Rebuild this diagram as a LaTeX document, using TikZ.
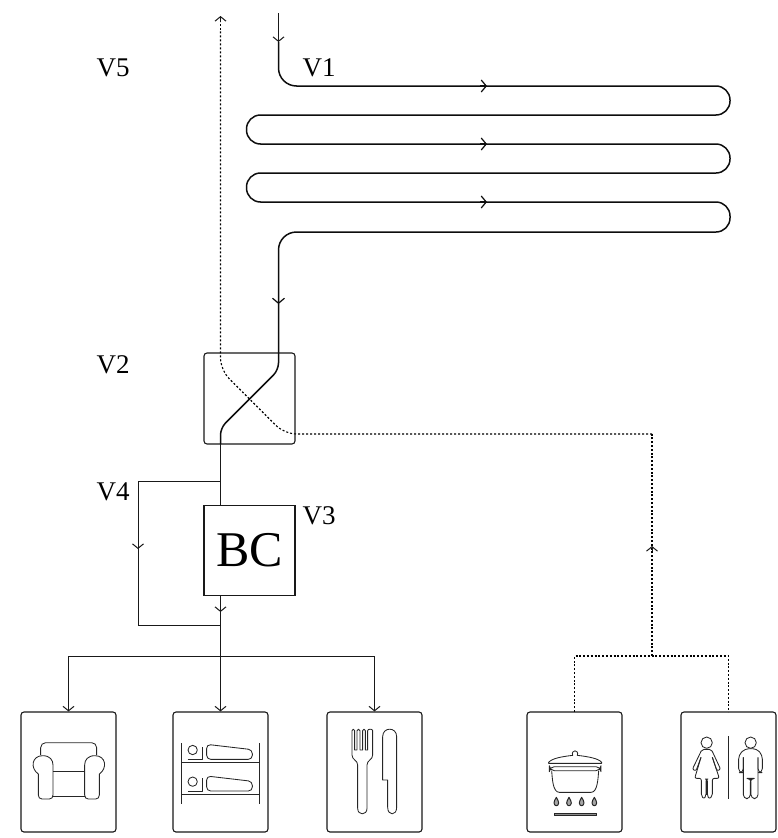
\documentclass[tikz,border=0pt]{standalone}
\usepackage{fontspec}
\setmainfont{Liberation Serif}
\usetikzlibrary{arrows.meta}
\tikzset{
  thinl/.style={line width=1pt,draw=black!90},
  thickl/.style={line width=1.5pt,draw=black!95},
  dotl/.style={line width=1.1pt,draw=black,dash pattern=on 2pt off 1.8pt},
  dotf/.style={line width=1.1pt,draw=black,dash pattern=on 2pt off 2pt},
  tip/.style={-{Straight Barb[length=4.5pt,width=11pt,line width=1pt]}},
  tipb/.style={-{Straight Barb[length=5pt,width=12pt,line width=1.2pt]}},
  lbl/.style={font=\fontsize{27}{27}\selectfont,inner sep=0pt,anchor=base west,text=black},
  roombox/.style={draw=black!90,line width=1.1pt,rounded corners=3pt,minimum width=95pt,minimum height=120pt,inner sep=0pt},
  icon/.style={line width=0.85pt,draw=black!85,line join=round},
  icons/.style={shift={(#1,700)},x=0.33333pt,y=-0.33333pt}
}
\begin{document}
\begin{tikzpicture}[x=1pt,y=-1pt]
\useasboundingbox (0,0) rectangle (777,838);
% boxes
\node[draw=black!90,line width=1.1pt,rounded corners=3pt,minimum width=91pt,minimum height=91pt,inner sep=0pt] (hx) at (249.5,398.5) {};
\node[draw=black!90,line width=1.1pt,minimum width=91pt,minimum height=89.5pt,inner sep=0pt,font=\fontsize{50}{50}\selectfont,text=black] (bc) at (249.5,550.5) {BC};
\node[roombox] (r1) at (68.5,772) {};
\node[roombox] (r2) at (220.5,772) {};
\node[roombox] (r3) at (374.5,772) {};
\node[roombox] (r4) at (574.5,772) {};
\node[roombox] (r5) at (728.5,772) {};
% labels
\node[lbl] (v5) at (96.5,76) {V5};
\node[lbl] (v1) at (302.5,76) {V1};
\node[lbl] (v2) at (96.5,373) {V2};
\node[lbl] (v4) at (96.5,500) {V4};
\node[lbl] (v3) at (302.5,524) {V3};
% coordinates
\coordinate (in) at (278.5,13);
\coordinate (ina) at (278.5,42);
\coordinate (outa) at (278.5,304);
\coordinate (hxout) at (220.5,444);
\coordinate (top) at (220.5,16);
\coordinate (split) at (220.5,481);
\coordinate (bcin) at (220.5,506);
\coordinate (bcout) at (220.5,595);
\coordinate (join) at (220.5,625);
\coordinate (bus) at (220.5,656);
\coordinate (dbus) at (652,656);
% supply
\draw[thinl,tip] (in) -- (ina);
\draw[thickl] (ina) -- (278.5,60) [rounded corners=18pt] -- (278.5,86) [rounded corners=14pt]
  -- (730,86) -- (730,115) -- (246.5,115) -- (246.5,144) -- (730,144) -- (730,173)
  -- (246.5,173) -- (246.5,202) -- (730,202) -- (730,232) [rounded corners=18pt] -- (278.5,232) -- (278.5,280)
  [sharp corners] -- (outa);
\foreach \yy in {86,144,202}{\draw[thickl,tipb] (480,\yy) -- (487,\yy);}
\draw[thickl,tipb] (278.5,296) -- (outa);
\draw[thickl,rounded corners=7pt] (outa) -- (278.5,370) -- (220.5,428) -- (hxout);
% exhaust
\draw[dotf,rounded corners=12pt] (652,434) -- (284.5,434) -- (220.5,370) -- (220.5,30);
\draw[thinl,tip] (220.5,22) -- (top);
\draw[dotf] (220.5,30) -- (220.5,22);
\draw[dotl] (dbus) -- (652,434);
\draw[thinl,tip] (652,551) -- (652,546);
\draw[dotl] (574.5,712) -- (574.5,656) -- (dbus) -- (728.5,656) -- (728.5,712);
% distribution
\draw[thinl] (hxout) -- (split) -- (bcin);
\draw[thinl] (bcout) -- (join) -- (bus);
\draw[thinl,tip] (220.5,603) -- (220.5,612);
\draw[thinl] (split) -- (138,481) -- (138,625) -- (join);
\draw[thinl,tip] (138,540) -- (138,549);
\draw[thinl,tip] (bus) -- (r2.north);
\draw[thinl,tip] (68.5,656) -- (r1.north);
\draw[thinl,tip] (374.5,656) -- (r3.north);
\draw[thinl] (68.5,656) -- (374.5,656);
% armchair
\begin{scope}[icons=0]
\draw[icon,rounded corners=5pt] (122,165) -- (122,128) -- (290,128) -- (290,165);
\draw[icon] (115,222) .. controls (90,205) and (95,167) .. (128,167) .. controls (150,167) and (159,180) .. (159,195) -- (159,285) .. controls (159,292) and (155,297) .. (148,297) -- (126,297) .. controls (119,297) and (115,292) .. (115,285) -- cycle;
\draw[icon] (298,222) .. controls (323,205) and (318,167) .. (285,167) .. controls (263,167) and (254,180) .. (254,195) -- (254,285) .. controls (254,292) and (258,297) .. (265,297) -- (287,297) .. controls (294,297) and (298,292) .. (298,285) -- cycle;
\draw[icon] (159,213) -- (254,213);
\draw[icon] (159,288) -- (254,288);
\end{scope}
% bunk
\begin{scope}[icons=0]
\draw[icon] (545,130) -- (545,312);
\draw[icon] (778,130) -- (778,312);
\draw[icon,line width=1.1pt] (545,188) -- (778,188);
\draw[icon,line width=1.1pt] (545,284) -- (778,284);
\foreach \dy in {0,95}{
  \draw[icon] (578,150+\dy) circle[radius=14];
  \draw[icon] (563,178+\dy) -- (606,178+\dy) -- (606,140+\dy);
  \draw[icon,rounded corners=4pt] (620,178+\dy) -- (620,133+\dy) -- (757,149+\dy) -- (757,178+\dy) -- cycle;
}
\end{scope}
% fork and knife
\begin{scope}[icons=310]
\draw[icon] (126,92) .. controls (126,86) and (134,86) .. (134,92) -- (134,150) -- (141,150) -- (141,92) .. controls (141,86) and (150,86) .. (150,92) -- (150,150) -- (158,150) -- (158,92) .. controls (158,86) and (166,86) .. (166,92) -- (166,150) -- (173,150) -- (173,92) .. controls (173,86) and (188,86) .. (188,92) -- (188,165) .. controls (188,180) and (171,180) .. (171,195) -- (171,325) .. controls (171,347) and (143,347) .. (143,325) -- (143,195) .. controls (143,180) and (126,180) .. (126,165) -- cycle;
\draw[icon] (218,240) -- (218,110) .. controls (218,80) and (260,80) .. (260,110) -- (260,322) .. controls (260,348) and (233,348) .. (233,322) -- (233,240) -- cycle;
\end{scope}
% cooking pot
\begin{scope}[icons=500]
\draw[icon] (218,166) .. controls (212,148) and (238,148) .. (232,166) .. controls (265,170) and (295,175) .. (305,187) -- (305,190) -- (146,190) -- (146,187) .. controls (156,175) and (185,170) .. (218,166) -- cycle;
\draw[icon,rounded corners=5pt] (148,200) -- (303,200) -- (303,212) -- (148,212) -- cycle;
\draw[icon] (155,212) .. controls (157,235) and (158,277) .. (178,277) -- (273,277) .. controls (293,277) and (294,235) .. (296,212);
\foreach \fx in {169,207,245,283}{
  \draw[icon,line width=1pt,fill=black!35] (\fx,292) .. controls (\fx+3,300) and (\fx+8,303) .. (\fx+7,309) .. controls (\fx+6,320) and (\fx-6,320) .. (\fx-7,309) .. controls (\fx-8,303) and (\fx-3,300) .. (\fx,292) -- cycle;
}
\draw[icon,fill=black!45] (163,340) rectangle (290,347);
\end{scope}
% toilets
\begin{scope}[icons=500]
\draw[icon] (685,108) -- (685,296);
\draw[icon] (620,128) circle[radius=17];
\draw[icon] (752,128) circle[radius=17];
% woman
\draw[icon,rounded corners=2pt] (637,172) -- (651,213) -- (662,208) -- (634,148) -- (606,148) -- (577,208) -- (588,213) -- (603,172);
\draw[icon,rounded corners=2pt] (603,172) -- (584,235) -- (604,235) -- (604,288) -- (612,297) -- (618,288) -- (618,237) -- (622,237) -- (622,288) -- (628,297) -- (637,288) -- (637,235) -- (658,235) -- (637,172);
\draw[icon,line width=1.1pt] (620,237) -- (620,285);
% man
\draw[icon,rounded corners=4pt] (774,172) -- (774,218) -- (787,218) -- (787,165) -- (770,146) -- (735,146) -- (716,165) -- (716,218) -- (730,218) -- (730,172);
\draw[icon,rounded corners=4pt] (730,172) -- (730,296) -- (751,296) -- (751,235) -- (753,235) -- (753,296) -- (774,296) -- (774,172);
\draw[icon,line width=1.1pt] (752,235) -- (752,285);
\end{scope}
\end{tikzpicture}
\end{document}
